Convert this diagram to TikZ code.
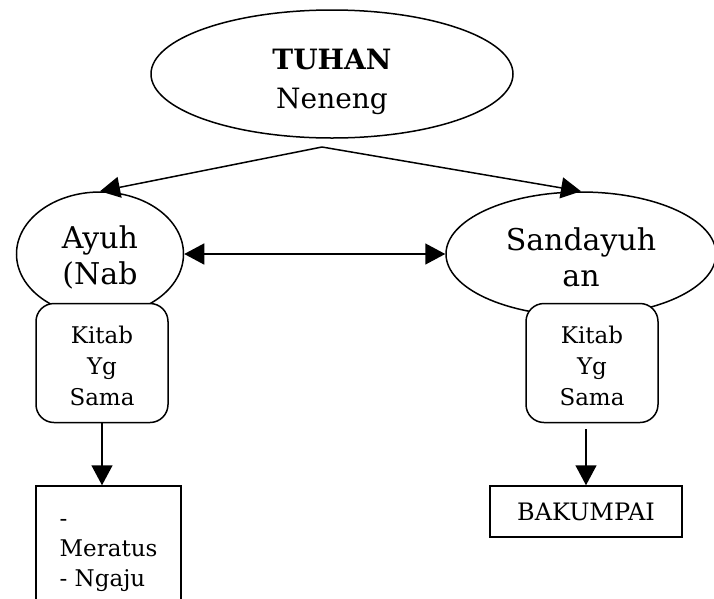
\documentclass[tikz,border=0pt]{standalone}
\usepackage{fontspec}
\setmainfont{DejaVu Serif}
\usetikzlibrary{shapes.geometric,arrows.meta}

% extra room above the first line pushes the text a bit lower
\newcommand{\toproom}[1]{\rule{0pt}{#1}}

\begin{document}
\begin{tikzpicture}[x=1pt, y=-1pt, line width=1.5pt,
    oval/.style={draw, ellipse, inner sep=0pt, align=center},
    kitab/.style={draw, rounded corners=18pt, minimum width=132pt, minimum height=119pt,
      align=center, font=\fontsize{23}{31}\selectfont},
    sukubox/.style={draw, align=left, font=\fontsize{23}{30}\selectfont},
    arr/.style={-{Triangle[length=20pt, width=21pt]}}]
    \useasboundingbox (0,0) rectangle (714,598);
    \node[oval, minimum width=362pt, minimum height=128pt, font=\fontsize{28}{39}\selectfont]
      (tuhan) at (332,74) {\toproom{37pt}\textbf{TUHAN}\\Neneng};
    \node[oval, minimum width=167pt, minimum height=124pt, font=\fontsize{30}{36}\selectfont]
      (ayuh) at (100,254) {\toproom{30pt}Ayuh\\(Nab};
    \node[oval, minimum width=270pt, minimum height=124pt, font=\fontsize{30}{36}\selectfont]
      (sandayuh) at (581,254) {\toproom{30pt}Sandayuh\\an};
    \node[kitab, fill=white] (kitabL) at (102,363) {\toproom{24pt}Kitab\\Yg\\Sama};
    \node[kitab, fill=white] (kitabR) at (592,363) {\toproom{24pt}Kitab\\Yg\\Sama};
    \node[sukubox, minimum width=145pt, minimum height=140pt] (meratus) at (108.5,556) {-\\Meratus\\- Ngaju};
    \node[sukubox, minimum width=192pt, minimum height=51pt, font=\fontsize{24}{28}\selectfont]
      (bakumpai) at (586,511.5) {BAKUMPAI};
    \coordinate (apex) at (322,147);
    \draw[arr] (apex) -- (ayuh.north);
    \draw[arr] (apex) -- (sandayuh.north);
    \draw[{Triangle[length=20pt, width=21pt]}-{Triangle[length=20pt, width=21pt]}]
      (ayuh.east) -- (sandayuh.west);
    \draw[arr] (kitabL.south) -- (kitabL.south |- meratus.north);
    \draw[arr] ([yshift=-6pt]bakumpai.north |- kitabR.south) -- (bakumpai.north);
  \end{tikzpicture}
\end{document}
